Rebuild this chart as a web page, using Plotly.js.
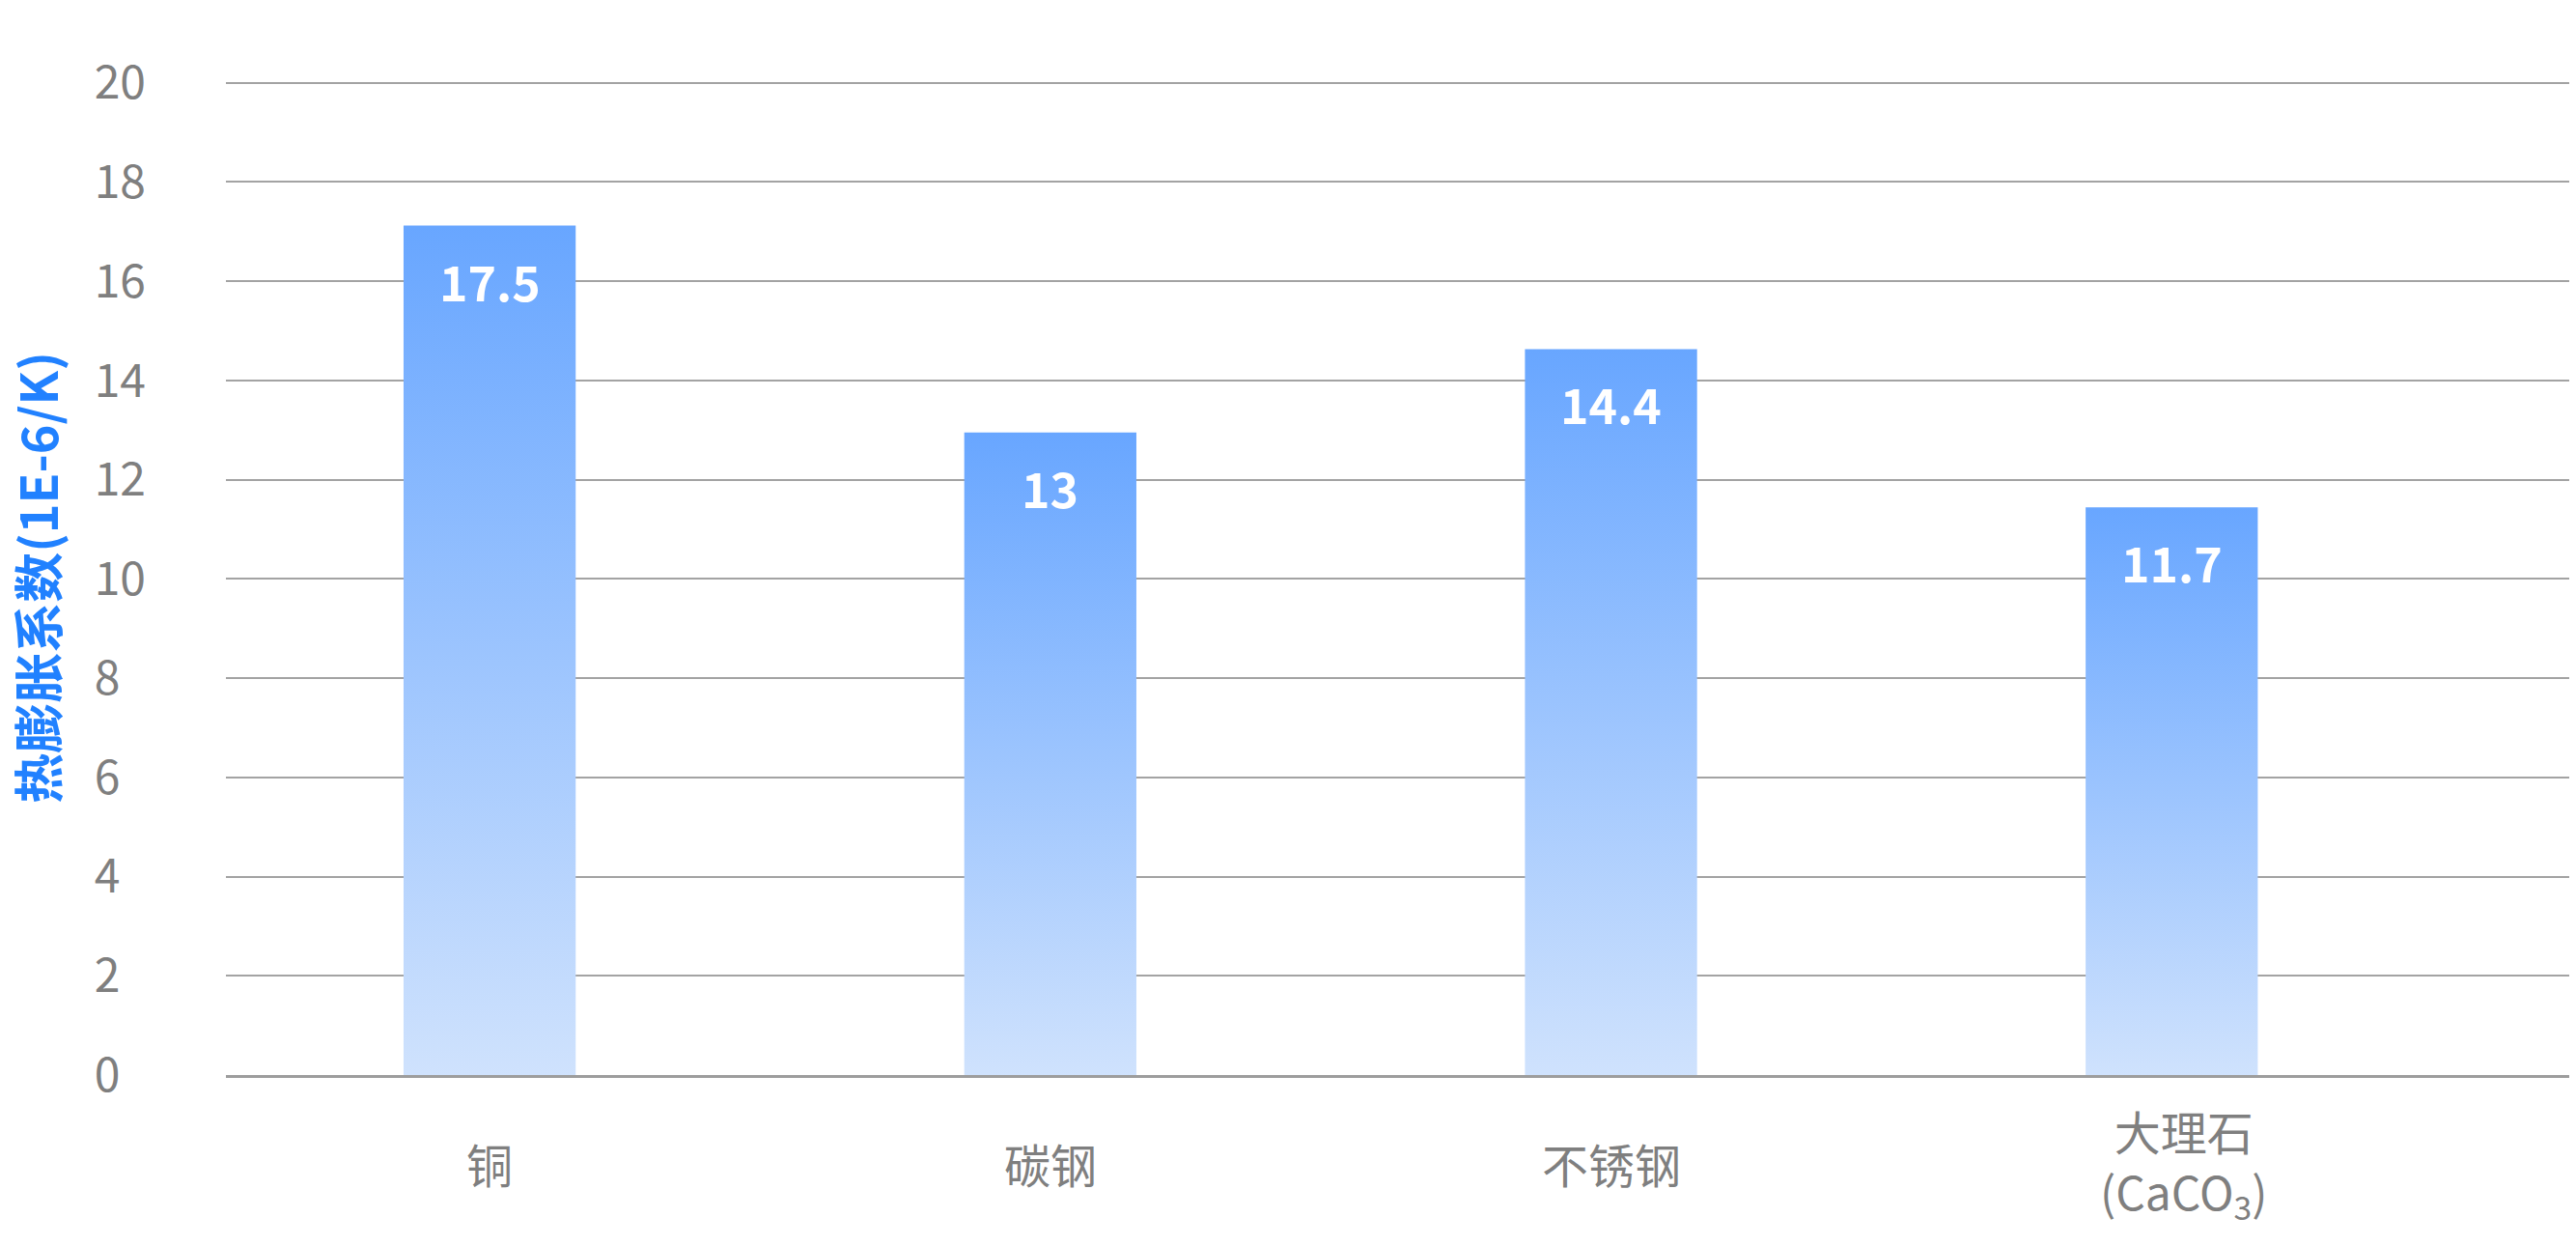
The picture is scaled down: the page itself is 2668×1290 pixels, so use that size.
<!DOCTYPE html>
<html>
<head>
<meta charset="utf-8">
<script src="https://cdn.plot.ly/plotly-3.0.1.min.js"></script>
<style>
  html, body { margin: 0; padding: 0; background: #ffffff; }
  #chart { width: 2668px; height: 1290px; }
</style>
</head>
<body>
<div id="chart"></div>
<script>
// ---- data ----
const categories = ['铜', '碳钢', '不锈钢', '大理石'];
const categoryLabels = ['铜', '碳钢', '不锈钢', '大理石<br>(CaCO<sub>3</sub>)'];
const barValues = [17.12, 12.95, 14.63, 11.44];      // bar heights as drawn
const valueLabels = ['17.5', '13', '14.4', '11.7'];  // printed labels
const yTickValues = [0, 2, 4, 6, 8, 10, 12, 14, 16, 18, 20];
const yTickLabels = ['0\u2007', '2\u2007', '4\u2007', '6\u2007', '8\u2007', '10', '12', '14', '16', '18', '20'];
const yAxisTitle = '热膨胀系数(1E-6/K)';

const FONT = '"Noto Sans CJK SC", "Noto Sans", sans-serif';
const GRAY = '#7f7f7f';

const trace = {
  type: 'bar',
  x: categories,
  y: barValues,
  width: 0.307,
  marker: { color: '#8ab6ff', line: { width: 0 } },
  hoverinfo: 'skip'
};

const annotations = [];
categories.forEach((c, i) => {
  annotations.push({
    x: c, y: barValues[i], xref: 'x', yref: 'y',
    text: valueLabels[i], showarrow: false,
    yanchor: 'middle', xanchor: 'center', yshift: -56,
    font: { family: FONT, size: 50, color: '#ffffff', weight: 'bold' }
  });
  annotations.push({
    x: c, y: 0, xref: 'x', yref: 'paper',
    text: categoryLabels[i], showarrow: false,
    yanchor: 'middle', xanchor: 'center', yshift: -91,
    xshift: i === 3 ? 12 : 0,
    font: { family: FONT, size: 48, color: GRAY }
  });
});

const layout = {
  width: 2668, height: 1290,
  margin: { l: 234, r: 7, t: 82.5, b: 177 },
  paper_bgcolor: '#ffffff', plot_bgcolor: '#ffffff',
  showlegend: false,
  font: { family: FONT, color: GRAY },
  xaxis: {
    type: 'category',
    range: [-0.4703, 3.709],
    showticklabels: false,
    ticks: '',
    showgrid: false,
    zeroline: false,
    showline: true, linecolor: '#9d9d9d', linewidth: 3,
    fixedrange: true
  },
  yaxis: {
    range: [0, 20.05],
    tickmode: 'array',
    tickvals: yTickValues,
    ticktext: yTickLabels,
    ticks: '',
    showgrid: true, gridcolor: '#a3a3a3', gridwidth: 2,
    zeroline: false,
    showline: false,
    ticklabelstandoff: 82,
    tickfont: { family: FONT, size: 48, color: GRAY },
    title: {
      text: yAxisTitle,
      standoff: 30,
      font: { family: FONT, size: 52, color: '#2181ff', weight: 'bold' }
    },
    fixedrange: true
  },
  annotations: annotations
};

Plotly.newPlot('chart', [trace], layout, { displayModeBar: false, staticPlot: true }).then(gd => {
  const svg = gd.querySelector('svg.main-svg');
  const ns = 'http://www.w3.org/2000/svg';
  let defs = svg.querySelector('defs');
  if (!defs) { defs = document.createElementNS(ns, 'defs'); svg.insertBefore(defs, svg.firstChild); }
  const grad = document.createElementNS(ns, 'linearGradient');
  grad.setAttribute('id', 'barGrad');
  grad.setAttribute('x1', '0'); grad.setAttribute('y1', '0');
  grad.setAttribute('x2', '0'); grad.setAttribute('y2', '1');
  [['0', '#68a6ff'], ['1', '#cfe2fd']].forEach(([o, c]) => {
    const s = document.createElementNS(ns, 'stop');
    s.setAttribute('offset', o); s.setAttribute('stop-color', c);
    grad.appendChild(s);
  });
  defs.appendChild(grad);
  gd.querySelectorAll('.barlayer .point path').forEach(p => { p.style.fill = 'url(#barGrad)'; });
});
</script>
</body>
</html>
